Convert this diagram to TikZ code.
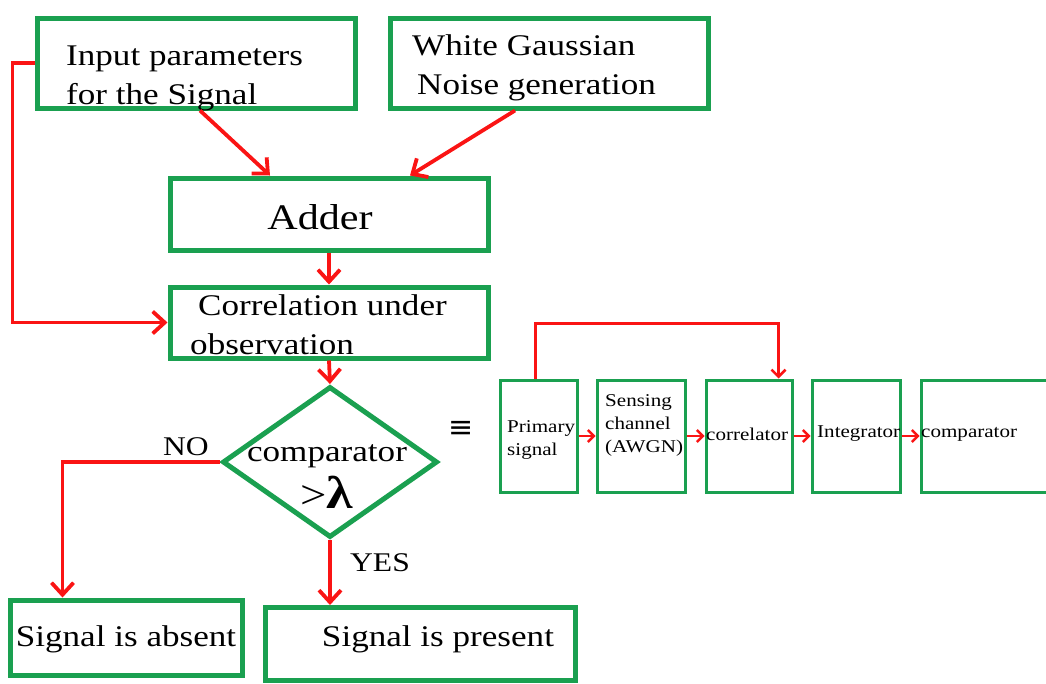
\documentclass[tikz,border=0pt]{standalone}
\usepackage{fontspec}
\setmainfont[FakeStretch=1.17]{Liberation Serif}
\newfontfamily\symfont{DejaVu Sans}
\usetikzlibrary{arrows.meta,shapes.geometric}
\definecolor{boxgreen}{RGB}{26,160,80}
\definecolor{linered}{RGB}{250,20,20}
\begin{document}
\begin{tikzpicture}[x=1pt,y=-1pt,
  box/.style={draw=boxgreen,line width=5pt,inner sep=0pt},
  sbox/.style={draw=boxgreen,line width=3pt,inner sep=0pt,minimum height=112pt},
  big/.style={font=\fontsize{30}{39}\selectfont,inner sep=0pt,align=left},
  small/.style={font=\fontsize{18}{23}\selectfont,inner sep=0pt,align=left},
  arr/.style={draw=linered,line width=3.8pt,-{Straight Barb[length=12pt,width=22pt]}},
  sarr/.style={draw=linered,line width=2.4pt,-{Straight Barb[length=6pt,width=12pt]}}]

\useasboundingbox (0,0) rectangle (1046,683);

% main flow chart
\node[box,minimum width=318pt,minimum height=90pt] (inp) at (196,63) {};
\node[box,minimum width=318pt,minimum height=90pt] (wgn) at (549,63) {};
\node[box,minimum width=318pt,minimum height=72pt] (add) at (329,214) {};
\node[box,minimum width=318pt,minimum height=71pt] (cor) at (329,322.5) {};
\node[box,diamond,minimum width=215pt,minimum height=151pt] (cmp) at (330,462) {};
\node[box,minimum width=232pt,minimum height=75pt] (absent) at (126,637.5) {};
\node[box,minimum width=310pt,minimum height=73pt] (pres) at (420,644) {};

\node[big,anchor=west] (inpT) at (66,78) {Input parameters\\for the Signal};
\node[big,anchor=west] (wgnT) at (412,68) {White Gaussian\\\hspace*{5pt}Noise generation};
\node[inner sep=0pt,font=\fontsize{36}{40}\selectfont] (addT) at (320,217) {Adder};
\node[big,anchor=west] (corT) at (190,325) {\hspace*{8pt}Correlation under\\observation};
\node[big] (cmpT) at (327,456) {comparator};
\node[inner sep=0pt] (lam) at (327,492) {\fontsize{40}{40}\selectfont>\fontsize{46}{46}\selectfont\bfseries λ};
\node[inner sep=0pt,font=\fontsize{27}{30}\selectfont] (no) at (186,447) {NO};
\node[inner sep=0pt,font=\fontsize{27}{30}\selectfont] (yes) at (380,563) {YES};
\node[big] (absT) at (126,639) {Signal is absent};
\node[big] (presT) at (438,639) {Signal is present};

\draw[arr] ([xshift=4pt]inp.south) -- ([xshift=-59pt]add.north);
\draw[arr] ([xshift=-34pt]wgn.south) -- ([xshift=81pt]add.north);
\draw[arr] (add.south) -- (cor.north);
\draw[arr] (inp.west) -- ++(-22,0) |- (cor.west);
\draw[arr] (cor.south) -- (cmp.north);
\draw[arr] (cmp.west) -| ([xshift=55pt]absent.north west);
\draw[arr] (cmp.south) -- (cmp.south |- pres.north);

% equivalent block chain
\node[inner sep=0pt,font=\symfont\fontsize{30}{30}\selectfont] (eq) at (461,429) {≡};

\node[sbox,minimum width=77pt] (prim) at (538.5,436) {};
\node[sbox,minimum width=88pt] (sens) at (641,436) {};
\node[sbox,minimum width=86pt] (corr) at (749,436) {};
\node[sbox,minimum width=88pt] (integ) at (856,436) {};
\node[sbox,minimum width=138pt] (comp) at (990,436) {};

\node[small,anchor=west] (primT) at (507,440) {Primary\\signal};
\node[small,anchor=west] (sensT) at (605,425) {Sensing\\channel\\(AWGN)};
\node[small,anchor=west] (corrT) at (706,434) {correlator};
\node[small,anchor=west] (integT) at (817,434) {Integrator};
\node[small,anchor=west] (compT) at (921,434) {comparator};

\draw[sarr] (prim.east) -- (sens.west);
\draw[sarr] (sens.east) -- (corr.west);
\draw[sarr] (corr.east) -- (integ.west);
\draw[sarr] (integ.east) -- (comp.west);
\draw[draw=linered,line width=2.6pt,-{Straight Barb[length=7pt,width=14pt]}]
  ([xshift=-3pt]prim.north) -- ++(0,-55) -| ([xshift=74pt]corr.north west);
\end{tikzpicture}
\end{document}
